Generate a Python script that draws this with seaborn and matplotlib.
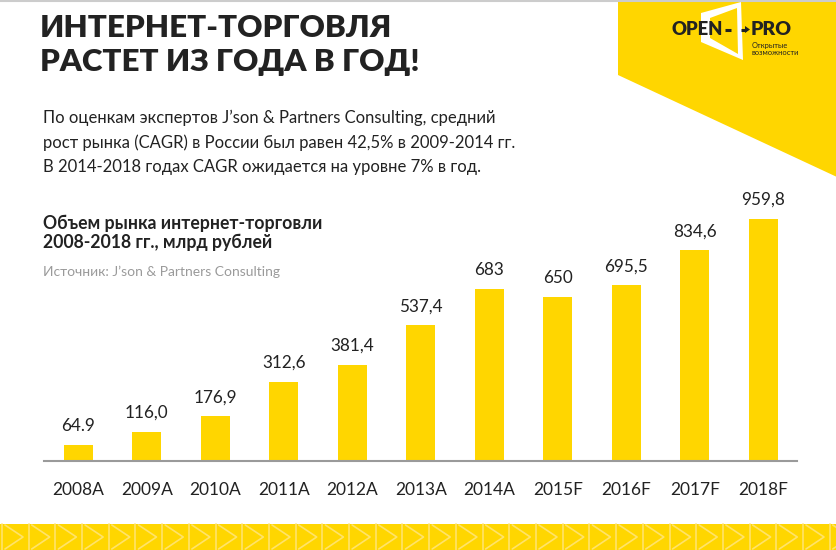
import matplotlib
matplotlib.use("Agg")
import matplotlib.pyplot as plt
import seaborn as sns
import pandas as pd
from matplotlib.patches import Polygon, Rectangle

categories = ["2008A", "2009A", "2010A", "2011A", "2012A", "2013A",
              "2014A", "2015F", "2016F", "2017F", "2018F"]
values = [64.9, 116.0, 176.9, 312.6, 381.4, 537.4, 683, 650, 695.5, 834.6, 959.8]
value_labels = ["64.9", "116,0", "176,9", "312,6", "381,4", "537,4",
                "683", "650", "695,5", "834,6", "959,8"]

title_lines = ["ИНТЕРНЕТ-ТОРГОВЛЯ", "РАСТЕТ ИЗ ГОДА В ГОД!"]
para_lines = ["По оценкам экспертов J’son & Partners Consulting, средний",
              "рост рынка (CAGR) в России был равен 42,5% в 2009-2014 гг.",
              "В 2014-2018 годах CAGR ожидается на уровне 7% в год."]
subtitle_lines = ["Объем рынка интернет-торговли", "2008-2018 гг., млрд рублей"]
source = "Источник: J’son & Partners Consulting"

YEL = "#FFD600"
TXT = "#222222"

sns.set_theme(style="white")
plt.rcParams["font.family"] = ["Lato", "DejaVu Sans"]

W, H = 837, 550
fig = plt.figure(figsize=(W / 100, H / 100), dpi=100)
fig.patch.set_facecolor("white")

# background decoration axes in pixel coords
bg = fig.add_axes([0, 0, 1, 1], zorder=0)
bg.set_xlim(0, W)
bg.set_ylim(H, 0)
bg.axis("off")
bg.add_patch(Polygon([(618, 0), (837, 0), (837, 177), (618, 75)],
                     closed=True, facecolor=YEL, edgecolor="none"))
# window shape of logo
bg.add_patch(Polygon([(701, 13), (741, 2), (743, 60), (701, 42)],
                     closed=True, facecolor="white", edgecolor="none"))
bg.add_patch(Polygon([(710, 18), (737, 8), (738, 54), (710, 38)],
                     closed=True, facecolor=YEL, edgecolor="none"))
bg.text(672, 29.5, "OPEN", fontsize=13.3, fontweight="heavy", color=TXT, va="center", ha="left")
bg.plot([725, 731], [29.5, 29.5], color=TXT, lw=2.2, solid_capstyle="butt")
bg.plot([741, 746], [29.5, 29.5], color=TXT, lw=2.2, solid_capstyle="butt")
bg.add_patch(Polygon([(745, 26), (750, 29.5), (745, 33)], closed=True,
                     facecolor=TXT, edgecolor="none"))
bg.text(751, 29.5, "PRO", fontsize=14, fontweight="heavy", color=TXT, va="center", ha="left")
bg.text(752, 45.5, "Открытые", fontsize=5.4, color=TXT, va="center", ha="left")
bg.text(752, 52.5, "возможности", fontsize=5.4, color=TXT, va="center", ha="left")
bg.plot([0, W], [0.5, 0.5], color="#cccccc", lw=1.5)

# bottom patterned band
bg.add_patch(Rectangle((0, 524), W, 26, facecolor=YEL, edgecolor="none"))
x0 = 2.0
while x0 < W:
    bg.plot([x0, x0], [524, 550], color="#FFE36A", lw=1.2)
    bg.plot([x0 + 3, x0 + 21, x0 + 3], [525, 537, 549], color="#FFE36A", lw=1.2)
    x0 += 26.7

# texts
for i, line in enumerate(title_lines):
    fig.text(40 / W, 1 - (28 + 33.5 * i) / H, line, fontsize=22.5, fontweight="heavy",
             color=TXT, va="center", ha="left")
for i, line in enumerate(para_lines):
    fig.text(43 / W, 1 - (118 + 24.5 * i) / H, line, fontsize=12, color=TXT,
             va="center", ha="left")
for i, line in enumerate(subtitle_lines):
    fig.text(43 / W, 1 - (223 + 19.5 * i) / H, line, fontsize=12.7, fontweight="bold",
             color=TXT, va="center", ha="left")
fig.text(43 / W, 1 - 272 / H, source, fontsize=10, color="#9a9a9a",
         va="center", ha="left")

# chart
base = 461
scale = 0.2525
top_px = base - 1000 * scale
ax = fig.add_axes([44 / W, (H - base) / H, 753.5 / W, (base - top_px) / H], zorder=2)
ax.patch.set_alpha(0)
df = pd.DataFrame({"cat": categories, "val": values})
sns.barplot(data=df, x="cat", y="val", color=YEL, width=0.43, saturation=1,
            ax=ax, edgecolor="none")
ax.set_xlim(-0.5, len(categories) - 0.5)
ax.set_ylim(0, 1000)
ax.set_xlabel("")
ax.set_ylabel("")
ax.set_yticks([])
for s in ["top", "right", "left"]:
    ax.spines[s].set_visible(False)
ax.spines["bottom"].set_color("#9a9a9a")
ax.spines["bottom"].set_linewidth(1.5)
ax.set_xticks(range(len(categories)))
ax.set_xticklabels(categories, fontsize=12.5, color=TXT)
ax.tick_params(axis="x", which="major", length=0, pad=15)
ax.set_xticks([i - 0.5 for i in range(len(categories) + 1)], minor=True)
ax.tick_params(axis="x", which="minor", length=5, width=1.5, color="#9a9a9a", direction="out")

for i, (v, lab) in enumerate(zip(values, value_labels)):
    ax.annotate(lab, xy=(i, v), xytext=(0, 11), textcoords="offset pixels",
                ha="center", va="bottom", fontsize=12.3, color=TXT)

fig.savefig("out.png", dpi=100, facecolor="white")
